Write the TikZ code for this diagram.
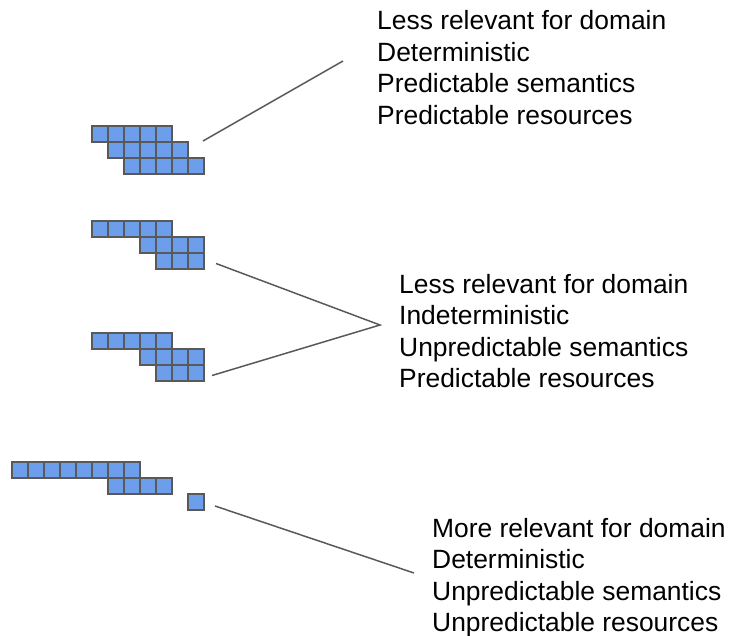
\documentclass[tikz,border=0pt]{standalone}
\usepackage{fontspec}
\setmainfont{Liberation Sans}
\definecolor{cellblue}{HTML}{6D9EEB}
\definecolor{edgegray}{HTML}{595959}
% a row of n unit cells whose top-left corner is at (#1,#2)
\newcommand{\cellrow}[3]{%
  \foreach \i in {1,...,#3}{%
    \draw[cell] ({#1+16*(\i-1)},#2) rectangle ++(16,16);%
  }%
}
\begin{document}
\begin{tikzpicture}[x=1pt,y=-1pt,
  cell/.style={fill=cellblue, draw=edgegray, line width=1.4pt},
  link/.style={draw=edgegray, line width=1.5pt},
  lbl/.style={anchor=base west, inner sep=0pt, font=\fontsize{26.4}{31}\selectfont}]
\useasboundingbox (0,0) rectangle (733,636);

% first group of cells
\cellrow{92}{126}{5}
\cellrow{108}{142}{5}
\cellrow{124}{158}{5}

% second group
\cellrow{92}{221}{5}
\cellrow{140}{237}{4}
\cellrow{156}{253}{3}

% third group
\cellrow{92}{333}{5}
\cellrow{140}{349}{4}
\cellrow{156}{365}{3}

% fourth group
\cellrow{12}{462}{8}
\cellrow{108}{478}{4}
\cellrow{188}{494}{1}

% connector end points
\coordinate (g1) at (203,141);
\coordinate (c1) at (343,61);
\coordinate (g2) at (216,263.5);
\coordinate (g3) at (212,375.5);
\coordinate (c2) at (380,325);
\coordinate (g4) at (215,506);
\coordinate (c3) at (414,573);

\draw[link] (g1) -- (c1);
\draw[link] (g2) -- (c2) -- (g3);
\draw[link] (g4) -- (c3);

% descriptions
\node[lbl] (a1) at (377,30) {Less relevant for domain};
\node[lbl] (a2) at (377,61.5) {Deterministic};
\node[lbl] (a3) at (377,93) {Predictable semantics};
\node[lbl] (a4) at (377,124.5) {Predictable resources};

\node[lbl] (b1) at (399,293) {Less relevant for domain};
\node[lbl] (b2) at (399,324.5) {Indeterministic};
\node[lbl] (b3) at (399,356) {Unpredictable semantics};
\node[lbl] (b4) at (399,387.5) {Predictable resources};

\node[lbl] (d1) at (432,537) {More relevant for domain};
\node[lbl] (d2) at (432,568.5) {Deterministic};
\node[lbl] (d3) at (432,600) {Unpredictable semantics};
\node[lbl] (d4) at (432,631.5) {Unpredictable resources};
\end{tikzpicture}
\end{document}
